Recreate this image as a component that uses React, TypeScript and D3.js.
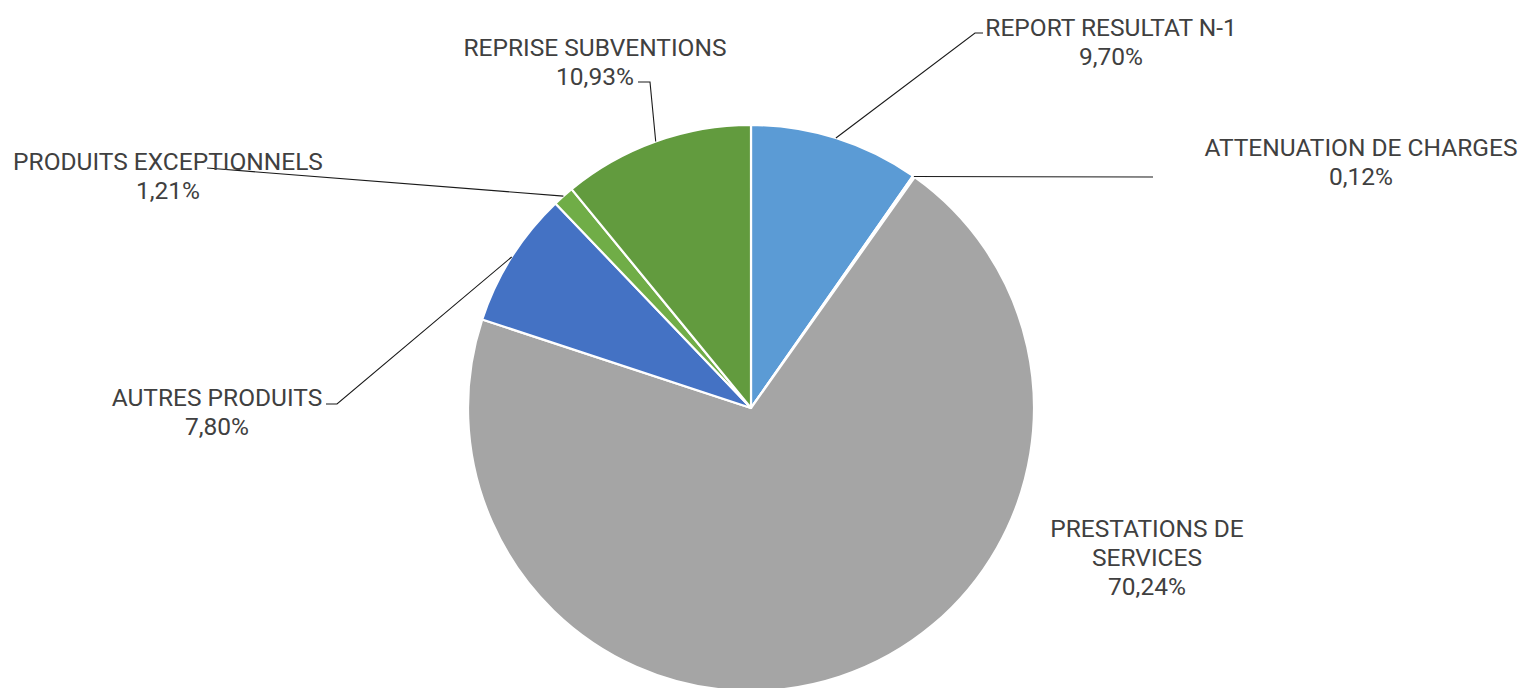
import React from "react";
import * as d3 from "d3";

const categories = [
  "REPORT RESULTAT N-1",
  "ATTENUATION DE CHARGES",
  "PRESTATIONS DE SERVICES",
  "AUTRES PRODUITS",
  "PRODUITS EXCEPTIONNELS",
  "REPRISE SUBVENTIONS",
];
const values = [9.70, 0.12, 70.24, 7.80, 1.21, 10.93];
const valueLabels = ["9,70%", "0,12%", "70,24%", "7,80%", "1,21%", "10,93%"];
const colors = ["#5B9BD5", "#ED7D31", "#A5A5A5", "#4472C4", "#70AD47", "#629B3E"];

// label layout: text lines, center x, first line middle y, leader elbow points
const labelLines = [
  ["REPORT RESULTAT N-1"],
  ["ATTENUATION DE CHARGES"],
  ["PRESTATIONS DE", "SERVICES"],
  ["AUTRES PRODUITS"],
  ["PRODUITS EXCEPTIONNELS"],
  ["REPRISE SUBVENTIONS"],
];
const labelPos: [number, number][] = [
  [1111, 27],
  [1361, 147],
  [1147, 528],
  [217, 397],
  [168, 161],
  [595, 47],
];
const leaderPts: [number, number][][] = [
  [[975, 33], [983, 33]],
  [[1153, 177]],
  [],
  [[337, 404], [326, 404]],
  [[207, 168]],
  [[650, 82], [638, 82]],
];

const W = 1523;
const H = 688;
const cx = 751;
const cy = 408;
const R = 283;
const LH = 29;

export default function App() {
  const pie = d3.pie<number>().sort(null).value((d) => d);
  const arcs = pie(values);
  const arc = d3.arc<d3.PieArcDatum<number>>().innerRadius(0).outerRadius(R);

  return (
    <svg
      width={W}
      height={H}
      style={{ position: "absolute", left: 0, top: 0, background: "#fff" }}
      fontFamily="Roboto, 'Noto Sans', sans-serif"
    >
      <g transform={`translate(${cx},${cy})`}>
        {arcs.map((a, i) => (
          <path key={i} d={arc(a) || ""} fill={colors[i]} stroke="#fff" strokeWidth={2.2} strokeLinejoin="round" />
        ))}
      </g>
      {arcs.map((a, i) => {
        const pts = leaderPts[i];
        if (!pts.length) return null;
        const mid = (a.startAngle + a.endAngle) / 2;
        const sx = cx + R * Math.sin(mid);
        const sy = cy - R * Math.cos(mid);
        const all: [number, number][] = [[sx, sy], ...pts];
        return (
          <path
            key={"l" + i}
            d={d3.line()(all) || ""}
            fill="none"
            stroke="#1a1a1a"
            strokeWidth={1.1}
          />
        );
      })}
      {categories.map((c, i) => {
        const lines = [...labelLines[i], valueLabels[i]];
        const [x, y] = labelPos[i];
        return (
          <text
            key={"t" + i}
            textAnchor="middle"
            fontSize={24.5}
            fill="#404040"
          >
            {lines.map((ln, j) => (
              <tspan key={j} x={x} y={y + j * LH} dominantBaseline="central">
                {ln}
              </tspan>
            ))}
          </text>
        );
      })}
    </svg>
  );
}
